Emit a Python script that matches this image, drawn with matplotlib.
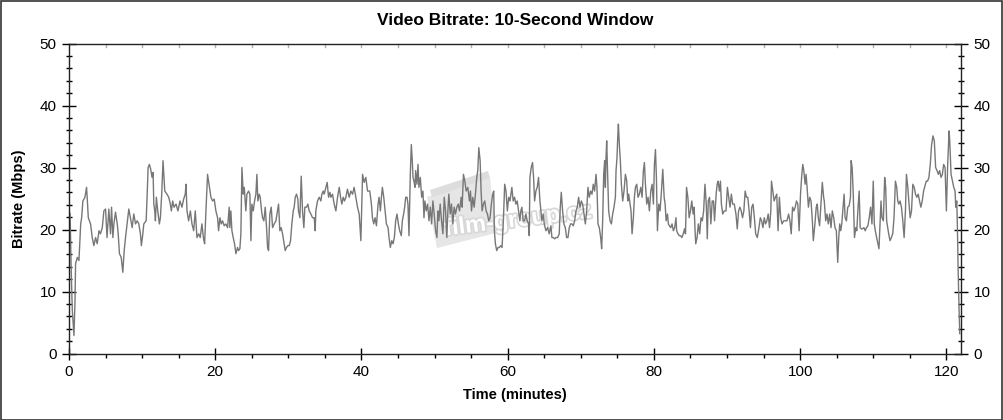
import matplotlib
matplotlib.use("Agg")
import matplotlib.pyplot as plt
import matplotlib.patheffects as pe
from matplotlib.patches import Rectangle, Polygon
from matplotlib.ticker import MultipleLocator

plt.rcParams["font.family"] = ["Liberation Sans", "DejaVu Sans"]

# values (minutes, Mbps)
time_min = [
    0.0, 0.15, 0.3, 0.45, 0.68, 0.82, 0.9, 1.14, 1.36, 1.6, 1.73, 1.9, 2.18, 2.4, 2.5, 2.64, 2.95,
    3.18, 3.4, 3.64, 3.86, 4.1, 4.3, 4.55, 4.77, 5.0, 5.2, 5.45, 5.68, 5.82, 6.0, 6.14, 6.36, 6.6,
    6.73, 6.9, 7.14, 7.36, 7.55, 7.73, 7.95, 8.18, 8.4, 8.64, 8.86, 9.1, 9.32, 9.55, 9.77, 9.9,
    10.1, 10.23, 10.55, 10.68, 10.82, 11.0, 11.18, 11.36, 11.5, 11.6, 11.73, 11.82, 11.95, 12.14,
    12.36, 12.5, 12.68, 12.86, 13.0, 13.1, 13.4, 13.64, 13.86, 14.0, 14.18, 14.36, 14.64, 14.9,
    15.18, 15.45, 15.68, 15.9, 16.0, 16.14, 16.36, 16.6, 16.82, 17.05, 17.27, 17.5, 17.73, 17.95,
    18.18, 18.4, 18.55, 18.73, 18.95,
    19.41, 19.64, 19.86, 20.09, 20.32, 20.46, 20.64, 20.82, 21.0, 21.23, 21.46, 21.69, 21.91, 22.0,
    22.14, 22.28, 22.46, 22.64, 22.83, 23.05, 23.19, 23.37, 23.51, 23.65, 23.83, 23.97, 24.19,
    24.33, 24.56, 24.74, 24.88, 25.01, 25.2, 25.38, 25.56, 25.7, 25.83, 26.02, 26.15, 26.34,
    26.47, 26.65, 26.84, 27.02, 27.16, 27.29, 27.47, 27.66, 27.84, 28.07, 28.3, 28.52, 28.66,
    28.84, 29.02, 29.21, 29.43, 29.57, 29.75, 29.94, 30.12, 30.3, 30.48, 30.67, 30.8, 30.94,
    31.12, 31.3, 31.39, 31.58, 31.76, 31.94, 32.12, 32.26, 32.49, 32.67, 32.85, 33.08, 33.31,
    33.54, 33.67, 33.76, 33.99, 34.22, 34.45, 34.58, 34.77, 34.9, 35.13, 35.31, 35.5, 35.68,
    35.82, 36.04, 36.27, 36.5, 36.73, 36.96, 37.14, 37.32, 37.5, 37.68, 37.87, 38.09, 38.32,
    38.55, 38.78, 39.0, 39.23, 39.46, 39.69, 39.92, 40.15, 40.37, 40.6, 40.83,
    41.14, 41.36, 41.5, 41.68, 41.86, 42.05, 42.27, 42.41, 42.59, 42.73, 42.86, 43.05, 43.23,
    43.41, 43.64, 43.77, 43.95, 44.14, 44.32, 44.5, 44.68, 44.86, 45.05, 45.23, 45.45, 45.59,
    45.77, 45.91, 46.05, 46.23, 46.36, 46.5, 46.68, 46.82, 46.95, 47.05, 47.18, 47.32, 47.41,
    47.59, 47.73, 47.86, 48.05, 48.23, 48.41, 48.55, 48.68, 48.86, 49.05, 49.23, 49.41, 49.59,
    49.77, 49.95, 50.14, 50.32, 50.45, 50.59, 50.77, 50.95, 51.14, 51.32, 51.5, 51.68, 51.82,
    51.95, 52.14, 52.32, 52.5, 52.68, 52.86, 53.05, 53.23, 53.41, 53.64, 53.77, 53.95, 54.14,
    54.32, 54.55, 54.77, 54.91, 55.05, 55.23, 55.41, 55.59, 55.77, 55.91, 56.05, 56.23, 56.36,
    56.5, 56.68, 56.86, 57.05, 57.23, 57.41, 57.59, 57.77, 57.95, 58.09, 58.18, 58.32, 58.5,
    58.68, 58.86, 59.05, 59.23, 59.41, 59.59, 59.77, 59.95, 60.14, 60.32,
    60.57, 60.75, 60.94, 61.12, 61.3, 61.48, 61.67, 61.8, 61.94, 62.12, 62.31, 62.49, 62.67,
    62.85, 62.95, 63.04, 63.22, 63.4, 63.54, 63.68, 63.86, 64.04, 64.22, 64.41, 64.54, 64.68,
    64.86, 65.0, 65.23, 65.46, 65.68, 65.91, 66.05, 66.23, 66.42, 66.6, 66.83, 67.05, 67.19,
    67.33, 67.51, 67.69, 67.88, 68.06, 68.24, 68.42, 68.61, 68.79, 68.97, 69.16, 69.34, 69.52,
    69.7, 69.89, 70.07, 70.25, 70.43, 70.62, 70.8, 70.98, 71.16, 71.35, 71.53, 71.71, 71.89,
    72.08, 72.21, 72.35, 72.53, 72.72, 72.85, 72.99, 73.13, 73.26, 73.36, 73.45, 73.54, 73.68,
    73.81, 74.0, 74.18, 74.36, 74.54, 74.73, 74.82, 74.95, 75.05, 75.14, 75.27, 75.41, 75.55,
    75.73, 75.91, 76.1, 76.28, 76.42, 76.55, 76.74, 76.87, 77.01, 77.19, 77.33, 77.47, 77.65,
    77.83, 78.01, 78.2, 78.38, 78.56, 78.7, 78.84, 79.02, 79.2, 79.38, 79.57, 79.75, 79.93,
    80.07, 80.21, 80.34, 80.48, 80.66, 80.84, 81.03, 81.21,
    81.4, 81.53, 81.67, 81.85, 81.98, 82.12, 82.3, 82.48, 82.66, 82.84, 83.02, 83.11, 83.29,
    83.47, 83.65, 83.83, 84.01, 84.19, 84.32, 84.46, 84.64, 84.82, 85.0, 85.18, 85.36, 85.5,
    85.63, 85.72, 85.9, 86.08, 86.26, 86.44, 86.62, 86.8, 86.98, 87.16, 87.3, 87.43, 87.61,
    87.79, 87.97, 88.15, 88.29, 88.51, 88.65, 88.78, 88.96, 89.1, 89.23, 89.41, 89.64, 89.86,
    90.05, 90.23, 90.41, 90.59, 90.77, 90.99, 91.22, 91.4, 91.58, 91.76, 91.94, 92.12, 92.3,
    92.48, 92.66, 92.84, 93.02, 93.2, 93.38, 93.56, 93.74, 93.92, 94.14, 94.37, 94.55, 94.73,
    94.91, 95.09, 95.27, 95.45, 95.63, 95.81, 95.99, 96.08, 96.26, 96.44, 96.62, 96.8, 96.98,
    97.16, 97.34, 97.52, 97.75, 97.97, 98.2, 98.42, 98.6, 98.78, 98.96, 99.14, 99.32, 99.5,
    99.68, 99.86, 100.05, 100.23, 100.36, 100.5, 100.68, 100.81, 100.95, 101.13, 101.31,
    101.49, 101.67, 101.8,
    102.02, 102.2, 102.34, 102.48, 102.66, 102.84, 103.03, 103.21, 103.3, 103.49, 103.67,
    103.85, 104.04, 104.22, 104.4, 104.59, 104.77, 104.95, 105.14, 105.28, 105.41, 105.55,
    105.69, 105.87, 106.01, 106.15, 106.33, 106.51, 106.7, 106.88, 106.97, 107.11, 107.25,
    107.43, 107.61, 107.75, 107.89, 108.07, 108.21, 108.39, 108.53, 108.72, 108.9, 109.08,
    109.27, 109.45, 109.63, 109.82, 110.0, 110.14, 110.28, 110.46, 110.64, 110.78, 110.92,
    111.06, 111.19, 111.38, 111.56, 111.7, 111.83, 111.97, 112.11, 112.29, 112.48, 112.66,
    112.84, 113.03, 113.21, 113.35, 113.49, 113.67, 113.85, 114.04, 114.22, 114.4, 114.54,
    114.72, 114.86, 115.05, 115.23, 115.41, 115.6, 115.78, 115.96, 116.15, 116.33, 116.51,
    116.7, 116.88, 117.06, 117.25, 117.43, 117.61, 117.8, 117.98, 118.17, 118.35, 118.53,
    118.72, 118.9, 119.08, 119.27, 119.45, 119.63, 119.82, 120.0, 120.18, 120.37, 120.46,
    120.64, 120.83, 121.01, 121.19, 121.28, 121.42, 121.51, 121.61, 121.74, 121.83,
]

bitrate = [
    23.0, 22.5, 13.5, 7.0, 2.9, 8.5, 14.5, 15.5, 15.0, 20.9, 21.9, 24.6, 25.2, 26.8, 24.9, 21.9, 20.9,
    18.7, 17.4, 18.7, 17.7, 19.8, 19.3, 20.3, 23.0, 23.3, 18.7, 23.3, 19.3, 23.6, 18.7, 20.9, 22.8, 20.9,
    19.3, 16.1, 15.5, 13.1, 16.6, 18.7, 20.9, 23.3, 21.9, 20.3, 22.5, 20.9, 21.4, 20.9, 19.3, 17.4,
    19.3, 20.9, 21.4, 25.2, 30.0, 30.5, 29.7, 28.4, 29.2, 24.1, 23.0, 21.4, 25.2, 23.0,
    20.9, 21.9, 25.7, 31.1, 28.4, 26.2, 25.7, 25.2, 24.1, 23.0, 24.6, 23.6, 24.1, 23.0,
    24.6, 23.6, 24.9, 25.7, 27.3, 23.0, 21.4, 23.0, 20.9, 19.8, 23.0, 18.7, 19.3, 18.7,
    20.9, 18.5, 17.7, 23.0, 28.9,
    25.2, 24.6, 24.9, 23.0, 21.9, 19.8, 21.9, 20.9, 21.4, 20.6, 20.9, 20.3, 23.6, 20.3,
    23.0, 19.8, 18.7, 17.7, 16.1, 17.1, 16.6, 16.9, 19.3, 30.0, 25.7, 26.8, 23.0,
    25.7, 26.2, 25.7, 18.2, 24.1, 23.0, 24.6, 25.7, 28.9, 24.6, 25.7, 25.2, 23.0,
    21.9, 21.4, 23.6, 20.3, 17.1, 16.6, 22.5, 23.6, 20.3, 20.9, 21.4, 23.0, 24.1,
    19.8, 20.3, 19.3, 17.7, 16.6, 17.1, 17.4, 17.4, 18.2, 20.9, 23.0, 23.6, 25.2,
    25.7, 24.9, 23.0, 21.9, 28.6, 23.0, 20.3, 23.6, 23.6, 24.1, 23.0, 22.5, 21.9,
    21.9, 19.8, 23.0, 24.6, 25.2, 24.6, 25.7, 26.2, 25.7, 26.8, 27.6, 25.2, 26.0,
    25.2, 25.7, 24.1, 23.0, 25.2, 26.8, 25.2, 24.1, 25.2, 24.6, 25.2, 26.5, 25.2,
    26.2, 25.7, 26.8, 25.2, 23.6, 22.5, 18.2, 28.9, 27.6, 28.4, 26.2,
    26.2, 24.1, 21.9, 20.9, 21.9, 20.6, 24.1, 25.2, 23.0, 25.2, 26.8, 25.2, 23.0,
    20.9, 20.3, 18.7, 17.1, 18.2, 17.7, 18.7, 21.4, 22.5, 20.9, 19.8, 19.0, 21.4,
    22.5, 23.6, 25.2, 25.2, 24.1, 19.0, 28.9, 33.7, 31.1, 28.4, 27.8, 26.8, 29.5,
    27.3, 30.5, 26.8, 28.4, 25.2, 26.2, 21.9, 24.6, 23.0, 24.1, 21.4, 23.6, 20.9,
    24.6, 22.5, 19.8, 18.7, 23.0, 21.4, 24.1, 21.4, 19.3, 25.2, 23.0, 18.7, 23.0,
    25.7, 22.5, 24.1, 20.9, 23.6, 22.5, 23.6, 24.1, 23.0, 25.2, 23.6, 28.9, 27.8,
    26.2, 26.8, 24.6, 26.2, 23.0, 25.2, 23.6, 25.7, 28.4, 29.5, 33.2, 31.1, 26.2,
    23.0, 24.1, 24.6, 23.0, 22.5, 21.4, 21.9, 24.1, 25.7, 26.2, 19.8, 17.7, 16.6,
    17.1, 17.1, 17.4, 17.1, 21.4, 27.3, 26.2, 23.0, 25.2, 24.6,
    26.8, 24.6, 25.2, 24.1, 24.6, 23.0, 21.4, 23.0, 23.6, 21.4, 21.4, 22.5, 21.4,
    20.9, 19.0, 28.4, 30.0, 30.8, 28.4, 24.6, 26.2, 26.8, 28.4, 24.6, 23.0, 21.4,
    22.5, 20.9, 19.8, 20.3, 19.3, 20.6, 18.7, 18.7, 18.5, 18.7, 18.7, 19.3, 23.6,
    26.0, 23.0, 20.9, 20.3, 18.7, 18.7, 20.3, 20.9, 20.9, 20.6, 21.4, 23.0, 23.6,
    25.2, 23.6, 24.6, 24.1, 22.5, 20.9, 23.0, 26.8, 25.2, 26.2, 25.7, 27.3, 26.2,
    28.9, 26.8, 20.9, 20.3, 18.7, 16.9, 21.4, 28.9, 31.1, 26.8, 31.6, 34.3, 28.4,
    23.0, 21.4, 20.9, 22.5, 23.6, 25.2, 29.5, 31.6, 34.8, 37.0, 33.7, 31.1, 27.3,
    24.6, 26.2, 28.9, 27.8, 24.6, 25.7, 24.1, 23.0, 19.3, 21.9, 25.2, 26.8, 27.3,
    25.2, 25.7, 26.8, 25.2, 29.5, 30.8, 27.3, 24.1, 25.2, 23.0, 26.2, 27.3, 24.1,
    30.5, 32.9, 28.4, 19.8, 24.1, 23.0, 26.2, 29.7,
    25.2, 24.1, 21.4, 22.5, 20.9, 20.6, 20.3, 20.9, 19.8, 20.3, 21.9, 19.8, 19.3,
    19.0, 19.0, 18.7, 19.3, 20.1, 19.3, 26.8, 25.2, 21.9, 23.0, 24.6, 22.5, 23.6,
    19.8, 17.7, 18.7, 20.9, 19.3, 21.9, 21.4, 23.0, 27.3, 24.1, 18.5, 24.6, 25.2,
    20.9, 24.6, 24.6, 21.4, 25.7, 27.3, 27.8, 26.2, 27.8, 24.1, 22.5, 23.0, 23.0,
    26.8, 25.2, 23.6, 25.7, 24.1, 24.1, 22.5, 20.1, 23.0, 23.6, 23.0, 21.9, 23.0,
    26.2, 25.2, 25.2, 23.0, 20.3, 23.6, 24.1, 21.9, 19.3, 18.7, 20.3, 21.9, 21.4,
    20.3, 21.9, 20.9, 21.4, 22.5, 20.3, 23.0, 27.8, 26.2, 24.6, 25.2, 25.7, 19.8,
    25.2, 21.9, 20.9, 21.4, 21.4, 21.4, 22.5, 21.4, 19.3, 23.6, 23.0, 23.6, 24.6,
    24.1, 19.8, 25.7, 28.9, 30.5, 29.5, 27.3, 28.9, 26.8, 23.6, 25.2,
    24.6, 21.4, 18.2,
    20.9, 23.6, 24.1, 21.9, 20.6, 24.1, 27.6, 25.2, 24.6, 21.4, 22.5,
    20.9, 22.5, 20.3, 23.0, 21.9, 20.3, 19.8, 14.7, 18.7, 20.9, 19.8,
    20.9, 23.6, 25.7, 21.9, 21.4, 23.6, 23.8, 25.2, 31.1, 30.0, 26.2,
    18.7, 20.3, 19.8, 23.0, 26.2, 20.3, 20.1, 20.1, 20.3, 19.8, 20.3,
    20.6, 21.9, 23.6, 20.9, 27.8, 20.9, 19.8, 18.7, 17.7, 16.9, 20.9,
    24.6, 21.9, 21.4, 28.4, 26.8, 21.4, 20.3, 19.3, 18.2, 18.7, 19.3,
    21.9, 27.8, 26.8, 24.6, 24.1, 24.6, 23.6, 21.4, 18.7, 23.0, 28.9,
    26.8, 24.6, 21.9, 23.0, 27.3, 26.8, 25.7, 25.2, 25.7, 24.6, 23.6,
    24.6, 26.2, 27.0, 27.8, 27.8, 28.4, 30.5, 33.7, 35.1, 34.3, 30.0,
    29.5, 28.9, 29.5, 28.4, 28.9, 30.5, 30.0, 23.0, 30.5, 35.9, 34.3,
    28.9, 27.8, 26.8, 26.2, 23.6, 24.6, 20.3, 13.4, 6.9, 3.2,
]

x_ticks = [0, 20, 40, 60, 80, 100, 120]
y_ticks = [0, 10, 20, 30, 40, 50]

W, H = 1004, 420
fig = plt.figure(figsize=(W / 100, H / 100), dpi=100)
ax = fig.add_axes([69 / W, 1 - 353.5 / H, 892 / W, 310 / H])
ax.patch.set_alpha(0)

# site watermark (clapperboard + text), kept behind the axes
board = [(427, 197), (490, 177), (496, 233), (437, 248)]
fig.patches.append(Polygon([(x / W, 1 - y / H) for x, y in board], closed=True,
                           transform=fig.transFigure, facecolor="#e6e6e6",
                           edgecolor="none", zorder=-2))
stripes = [(430, 190), (488, 171), (490, 178), (432, 197)]
fig.patches.append(Polygon([(x / W, 1 - y / H) for x, y in stripes], closed=True,
                           transform=fig.transFigure, facecolor="#dddddd",
                           edgecolor="none", zorder=-2))
fig.text(518 / W, 1 - 220 / H, "film-group.cz", fontsize=17, fontweight="bold",
         color="white", rotation=7, ha="center", va="center", zorder=-1,
         path_effects=[pe.withStroke(linewidth=2.5, foreground="#d8d8d8")])

ax.plot(time_min, bitrate, color="#777777", linewidth=1.0, zorder=2)

ax.set_xlim(0, 122)
ax.set_ylim(0, 50)
ax.set_xticks(x_ticks)
ax.set_yticks(y_ticks)
ax.xaxis.set_minor_locator(MultipleLocator(5))
ax.yaxis.set_minor_locator(MultipleLocator(2))

ax.tick_params(axis="y", which="major", direction="inout", length=10, width=1,
               left=True, right=True, labelleft=True, labelright=True, labelsize=11, pad=4)
ax.tick_params(axis="y", which="minor", direction="inout", length=5, width=1,
               left=True, right=True)
ax.tick_params(axis="x", which="major", direction="inout", length=9, width=1,
               bottom=True, top=False, labelsize=11, pad=4)
ax.tick_params(axis="x", which="minor", direction="out", length=3, width=1,
               bottom=True, top=False)

# faint inward ticks along the top edge
for t in range(5, 122, 5):
    ax.plot([t, t], [50, 49.4], color="#b0b0b0", linewidth=1, clip_on=False, zorder=1)

for s in ax.spines.values():
    s.set_color("#222222")
    s.set_linewidth(1)

ax.set_title("Video Bitrate: 10-Second Window", fontsize=12.5, fontweight="bold", pad=13)
ax.set_xlabel("Time (minutes)", fontsize=10.5, fontweight="bold", labelpad=6)
ax.set_ylabel("Bitrate (Mbps)", fontsize=10.5, fontweight="bold", labelpad=10)

# outer frame around the image
fig.patches.append(Rectangle((0.0005, 0.001), 0.998, 0.997, transform=fig.transFigure,
                             fill=False, edgecolor="#333333", linewidth=1.2))

fig.savefig("out.png", dpi=100)
